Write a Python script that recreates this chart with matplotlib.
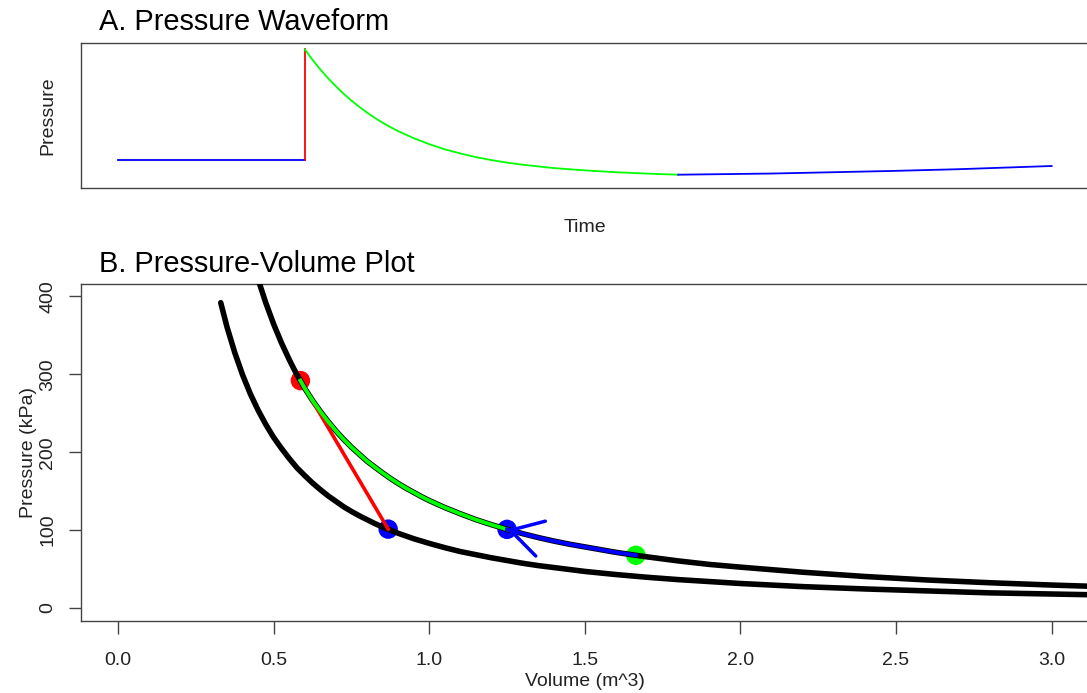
import numpy as np
import matplotlib.pyplot as plt

plt.rcParams['font.family'] = ['Liberation Sans', 'DejaVu Sans']

# --- A. pressure waveform (time, kPa) ---
t_base = [0.0, 0.6]
p_base = [100.0, 100.0]
t_jump = [0.6, 0.6]
p_jump = [100.0, 292.0]
t_decay = [0.600, 0.625, 0.650, 0.675, 0.700, 0.725, 0.750, 0.775, 0.800,
           0.825, 0.850, 0.875, 0.900, 0.950, 1.000, 1.050, 1.100, 1.150,
           1.200, 1.250, 1.300, 1.400, 1.500, 1.600, 1.700, 1.800]
p_decay = [292, 273.7, 257, 241.7, 227.8, 214.8, 203, 192.2, 182.3,
           173.1, 164.7, 157.1, 150.1, 137.9, 127.4, 118.5, 111.3, 105,
           99.8, 95.4, 91.8, 86, 82, 78.8, 76.4, 74.5]
t_recover = [1.80, 2.10, 2.48, 2.70, 3.00]
p_recover = [74.5, 76.5, 80.9, 84.0, 89.6]

# --- B. pressure-volume curves (m^3, kPa) ---
vol_lo = [0.33, 0.35, 0.375, 0.40, 0.425, 0.45, 0.475, 0.50, 0.525, 0.55,
          0.575, 0.60, 0.625, 0.65, 0.675, 0.70, 0.725, 0.75, 0.775, 0.80,
          0.825, 0.85, 0.875, 0.90, 0.925, 0.95, 0.975, 1.0, 1.05, 1.1,
          1.15, 1.2, 1.25, 1.3, 1.35, 1.4, 1.45, 1.5, 1.6, 1.7,
          1.8, 1.9, 2.0, 2.2, 2.4, 2.6, 2.8, 3.0, 3.2]
p_lo = [392, 361, 328, 299.5, 275, 254, 235.5, 219, 205, 192,
        180, 170, 160.5, 152, 144, 137, 130, 124, 118.5, 113.5,
        108.5, 104, 100, 96, 92.5, 89, 86, 83, 77.5, 72.5,
        68.5, 64.5, 61, 57.5, 54.5, 52, 49.5, 47, 43, 39.5,
        36.5, 34, 31.5, 27.5, 24.5, 22, 19.5, 18, 16.5]

vol_hi = np.array([0.40, 0.425, 0.45, 0.475, 0.50, 0.525, 0.55,
                   0.5625, 0.575, 0.586,
                   0.60, 0.625, 0.65, 0.675, 0.70, 0.725, 0.75, 0.775, 0.80, 0.825,
                   0.85, 0.875, 0.90, 0.925, 0.95, 0.975, 1.0, 1.05, 1.1, 1.15,
                   1.2, 1.25, 1.3, 1.35, 1.4, 1.45, 1.5, 1.6, 1.664, 1.7,
                   1.8, 1.9, 2.0, 2.2, 2.4, 2.6, 2.8, 3.0, 3.2])
p_hi = np.array([498, 457, 422, 391.5, 364.5, 340.5, 319,
                 309, 299.5, 292,
                 282, 266.5, 252.5, 239.5, 227.5, 216.5, 206.5, 197.5, 188.5, 181,
                 173.5, 166.5, 160, 154, 148.5, 143, 138, 129, 121, 113.5,
                 107, 101, 95.5, 90.5, 86, 82, 78.5, 71.5, 67.7, 65.7,
                 60.5, 56, 52.5, 46, 40.5, 36, 32.5, 29.5, 27])

# state points
pt_vol = [0.586, 0.868, 1.25, 1.664]
pt_p = [292, 101.3, 101, 67.7]
pt_col = ['red', 'blue', 'blue', '#00ff00']

W, H = 1087, 693
fig = plt.figure(figsize=(W / 100, H / 100), dpi=100)

# ---------- top panel ----------
ax1 = fig.add_axes([80.7 / W, 1 - 188.3 / H, (1089 - 80.7) / W, 145 / H])
ax1.plot(t_base, p_base, color='blue', lw=1.3)
ax1.plot(t_jump, p_jump, color='red', lw=1.3)
ax1.plot(t_decay, p_decay, color='#00ff00', lw=1.3)
ax1.plot(t_recover, p_recover, color='blue', lw=1.3)
ax1.set_xlim(-0.12, 3.12)
ax1.set_ylim(50.9, 302.4)
ax1.set_xticks([])
ax1.set_yticks([])
for s in ax1.spines.values():
    s.set_color('#444444')
    s.set_linewidth(1.0)

# ---------- bottom panel ----------
ax2 = fig.add_axes([80.7 / W, 1 - 620.5 / H, (1089 - 80.7) / W, 336.5 / H])
ax2.scatter(pt_vol, pt_p, s=14 ** 2, c=pt_col, zorder=2, linewidths=0)
ax2.plot(vol_lo, p_lo, color='black', lw=4.0, zorder=3,
         solid_capstyle='round', solid_joinstyle='round')
ax2.plot(vol_hi, p_hi, color='black', lw=4.0, zorder=3,
         solid_capstyle='round', solid_joinstyle='round')

green = (vol_hi >= 0.586) & (vol_hi <= 1.25)
blue = (vol_hi >= 1.25) & (vol_hi <= 1.664)
ax2.plot([pt_vol[0], pt_vol[1]], [pt_p[0], pt_p[1]], color='red', lw=2.6, zorder=4)
ax2.plot(vol_hi[green], p_hi[green], color='#00ff00', lw=2.8, zorder=4,
         solid_joinstyle='round')
ax2.plot(vol_hi[blue], p_hi[blue], color='blue', lw=2.8, zorder=4,
         solid_joinstyle='round')
i_tip = int(np.argmin(np.abs(vol_hi - 1.25)))
ax2.annotate('', xy=(vol_hi[i_tip], p_hi[i_tip]),
             xytext=(vol_hi[i_tip + 1], p_hi[i_tip + 1]),
             arrowprops=dict(arrowstyle='->,head_length=2.25,head_width=1.3',
                             color='blue', lw=2.5, shrinkA=0, shrinkB=0,
                             mutation_scale=10), zorder=5)

ax2.set_xlim(-0.12, 3.12)
ax2.set_ylim(-16, 416)
ax2.set_xticks([0, 0.5, 1.0, 1.5, 2.0, 2.5, 3.0])
ax2.set_xticklabels(['0.0', '0.5', '1.0', '1.5', '2.0', '2.5', '3.0'])
ax2.set_yticks([0, 100, 200, 300, 400])
ax2.set_yticklabels(['0', '100', '200', '300', '400'])
ax2.tick_params(axis='x', direction='out', length=9, width=1.0, color='#444444',
                pad=13.5, labelsize=14, labelcolor='#222222')
ax2.tick_params(axis='y', direction='out', length=9, width=1.0, color='#444444',
                pad=8.5, labelsize=14, labelcolor='#222222')
plt.setp(ax2.get_yticklabels(), rotation=90, va='center')
for s in ax2.spines.values():
    s.set_color('#444444')
    s.set_linewidth(1.0)

# ---------- text ----------
fig.text(99 / W, 1 - 30 / H, 'A. Pressure Waveform', fontsize=20.9,
         ha='left', va='baseline')
fig.text(99 / W, 1 - 271.7 / H, 'B. Pressure-Volume Plot', fontsize=20.9,
         ha='left', va='baseline')
fig.text(52.6 / W, 1 - 115.8 / H, 'Pressure', fontsize=14, rotation=90,
         rotation_mode='anchor', ha='center', va='baseline', color='#222222')
fig.text(585 / W, 1 - 231.5 / H, 'Time', fontsize=14, ha='center',
         va='baseline', color='#222222')
fig.text(33.3 / W, 1 - 452.3 / H, 'Pressure (kPa)', fontsize=14, rotation=90,
         rotation_mode='anchor', ha='center', va='baseline', color='#222222')
fig.text(584.5 / W, 1 - 686 / H, 'Volume (m^3)', fontsize=14, ha='center',
         va='baseline', color='#222222')

fig.savefig('out.png', dpi=100)
